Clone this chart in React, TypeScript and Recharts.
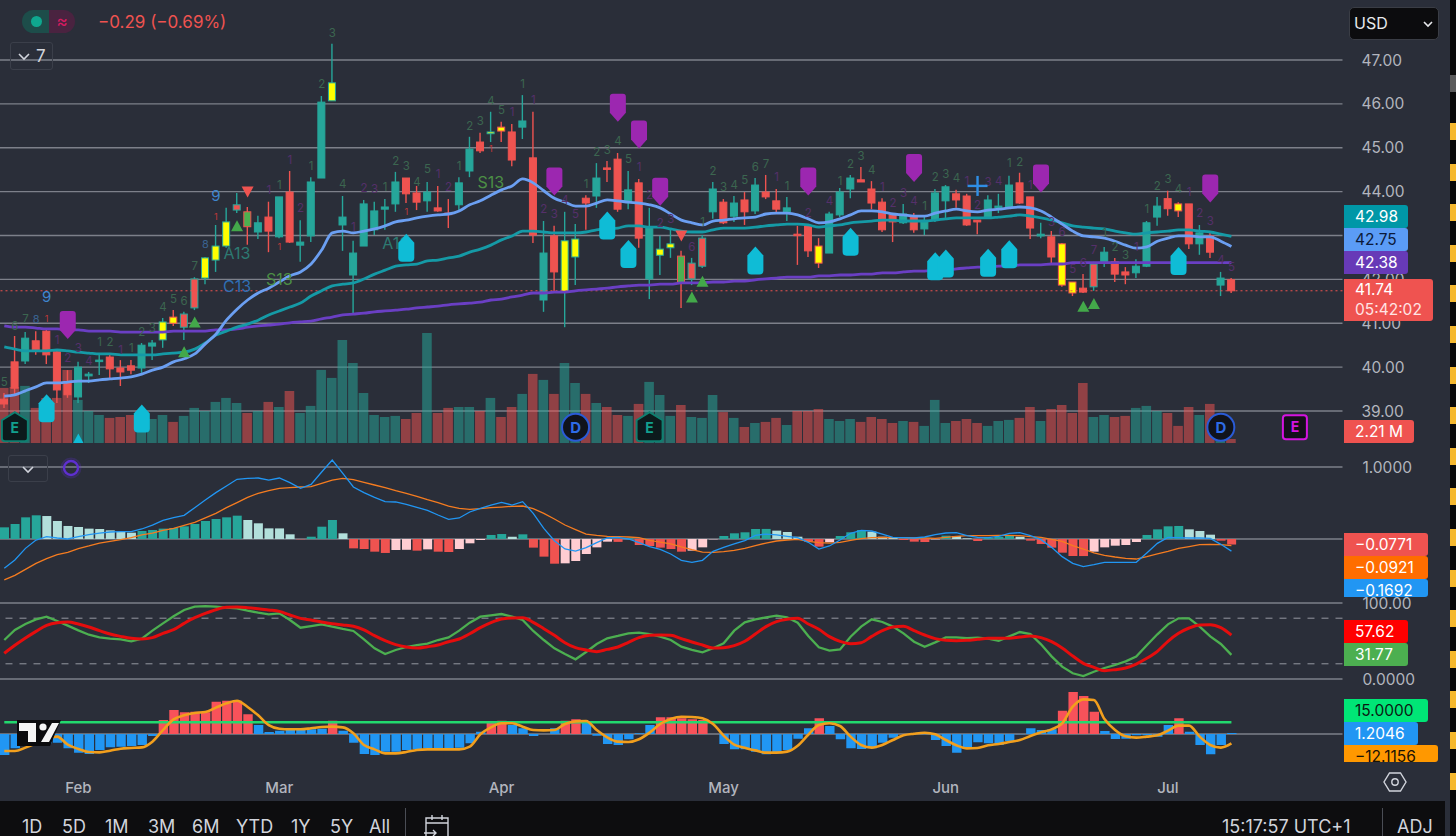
/**
 * StockPanel — dark candlestick chart with volume, MACD, stochastic and a squeeze oscillator.
 */

import {
  Bar,
  CartesianGrid,
  Cell,
  ComposedChart,
  Line,
  ReferenceDot,
  ReferenceLine,
  XAxis,
  YAxis,
} from 'recharts';

const FONT = 'Inter, "Noto Sans", sans-serif';
const BG = '#2a2e39';
const GRID = '#7d808a';
const UP = '#26a69a';
const DOWN = '#ef5350';

// daily candles
const opens = [
  39.27, 40.12, 40.14, 40.6, 40.82, 40.35, 39.64, 39.32, 39.8, 40.14,
  40.23, 39.98, 40.03, 39.98, 40.48, 40.62, 41.14, 41.21, 42.01, 42.03,
  42.44, 42.76, 43.7, 43.2, 43.08, 43.42, 42.97, 43.99, 42.78, 42.99,
  44.31, 46.07, 43.24, 42.1, 42.76, 43.13, 43.6, 43.72, 44.31, 43.97,
  43.79, 43.63, 43.51, 43.7, 44.47, 45.13, 45.32, 45.47, 45.36, 45.47,
  44.77, 41.53, 42.99, 41.71, 42.51, 43.85, 43.9, 44.54, 44.74, 43.76,
  44.2, 42.01, 42.55, 42.72, 41.92, 42.37, 42.94, 43.54, 43.76, 43.44,
  43.81, 43.56, 43.99, 43.79, 43.54, 43.03, 43.22, 42.76, 42.6, 43.47,
  44.06, 44.27, 44.06, 43.76, 43.47, 43.29, 43.44, 43.15, 43.35, 43.79,
  43.95, 43.9, 43.35, 43.42, 43.63, 43.65, 44.2, 43.88, 42.99, 42.97,
  42.81, 41.94, 41.8, 42.35, 42.37, 42.4, 42.17, 42.15, 42.3, 43.42,
  43.84, 43.72, 43.72, 42.81, 42.99, 41.87, 41.99,
];
const closes = [
  39.16, 39.52, 40.66, 40.39, 40.28, 39.48, 39.37, 40.0, 39.84, 40.16,
  39.96, 39.89, 39.93, 40.5, 40.55, 41.03, 41.0, 40.91, 41.35, 42.49,
  42.76, 43.31, 43.58, 43.54, 43.29, 43.1, 43.88, 42.85, 42.85, 44.22,
  46.04, 46.48, 43.42, 42.6, 43.72, 43.56, 43.65, 44.22, 43.95, 43.76,
  43.99, 43.56, 43.49, 44.2, 44.97, 44.93, 45.36, 45.38, 44.72, 45.61,
  43.01, 42.6, 42.17, 42.88, 42.92, 43.74, 44.31, 44.52, 43.6, 44.04,
  42.94, 43.19, 42.69, 42.81, 42.53, 42.01, 42.3, 44.06, 43.29, 43.74,
  43.54, 44.15, 43.88, 43.6, 43.63, 43.01, 42.65, 42.37, 43.49, 43.99,
  44.31, 44.22, 43.74, 43.13, 43.31, 43.49, 43.13, 43.31, 43.97, 44.11,
  43.81, 43.24, 43.31, 43.81, 43.67, 44.15, 43.74, 43.17, 43.03, 42.51,
  41.87, 41.69, 41.71, 41.83, 42.62, 42.12, 42.1, 42.3, 43.29, 43.67,
  43.61, 43.56, 42.81, 43.06, 42.62, 42.03, 41.74,
];
const highs = [
  39.41, 40.71, 40.8, 40.82, 40.89, 40.39, 39.93, 40.12, 39.89, 40.32,
  40.3, 40.16, 40.16, 40.55, 40.62, 41.12, 41.3, 41.26, 42.05, 42.51,
  43.24, 43.63, 43.97, 43.65, 43.45, 43.77, 43.88, 44.47, 43.35, 44.33,
  46.18, 47.37, 43.9, 42.88, 43.81, 43.77, 43.83, 44.45, 44.31, 44.13,
  44.22, 44.13, 43.83, 44.33, 45.25, 45.34, 45.82, 45.59, 45.54, 46.2,
  45.82, 43.33, 43.22, 43.54, 43.26, 43.92, 44.65, 44.7, 44.88, 44.47,
  44.29, 43.63, 42.99, 43.15, 42.65, 42.49, 43.01, 44.22, 43.83, 43.9,
  43.99, 44.31, 44.38, 44.06, 43.88, 43.22, 43.22, 42.94, 43.54, 44.08,
  44.38, 44.56, 44.24, 43.85, 43.47, 43.72, 43.51, 43.42, 44.06, 44.15,
  44.04, 43.95, 43.35, 43.92, 43.95, 44.36, 44.43, 43.88, 43.29, 43.1,
  42.83, 41.94, 42.12, 42.4, 42.74, 42.49, 42.28, 42.46, 43.33, 43.88,
  44.02, 43.76, 43.72, 43.24, 43.06, 42.17, 42.03,
];
const lows = [
  39.07, 39.36, 40.07, 40.28, 40.07, 39.18, 39.3, 39.18, 39.64, 39.82,
  39.71, 39.57, 39.84, 39.87, 40.16, 40.44, 40.94, 40.62, 41.3, 41.89,
  42.17, 42.72, 43.51, 42.79, 42.92, 42.62, 42.94, 42.83, 42.4, 42.85,
  44.31, 46.07, 42.65, 41.23, 42.76, 43.01, 43.13, 43.54, 43.74, 43.58,
  43.54, 43.54, 43.17, 43.58, 44.33, 44.88, 45.13, 45.13, 44.58, 45.2,
  42.83, 41.26, 41.71, 40.91, 41.87, 43.13, 43.63, 44.22, 43.54, 43.6,
  42.72, 41.55, 42.1, 42.49, 41.35, 41.87, 42.26, 43.38, 43.26, 43.31,
  43.24, 43.49, 43.83, 43.51, 43.33, 42.33, 42.51, 42.26, 42.6, 43.42,
  43.85, 44.22, 43.6, 43.08, 42.85, 43.26, 43.06, 43.01, 43.31, 43.4,
  43.63, 43.22, 43.03, 43.4, 43.51, 43.63, 43.72, 42.92, 42.94, 42.37,
  41.83, 41.62, 41.69, 41.74, 42.28, 41.94, 41.89, 42.03, 42.28, 43.22,
  43.45, 43.42, 42.69, 42.56, 42.49, 41.62, 41.69,
];
// d / u plain, yu / yd yellow body with green or red edge, gr green body red edge, rt red body teal edge
const candleKinds = [
  'd', 'd', 'u', 'd', 'd', 'd', 'd', 'u', 'u', 'u',
  'd', 'd', 'd', 'u', 'u', 'yu', 'yd', 'rt', 'rt', 'yu',
  'yu', 'yu', 'rt', 'gr', 'u', 'd', 'u', 'd', 'u', 'u',
  'u', 'yu', 'u', 'u', 'u', 'u', 'u', 'u', 'd', 'd',
  'u', 'd', 'd', 'u', 'u', 'd', 'yu', 'yd', 'd', 'u',
  'd', 'u', 'd', 'yu', 'yu', 'd', 'u', 'd', 'd', 'u',
  'd', 'u', 'yu', 'yu', 'gr', 'rt', 'rt', 'u', 'd', 'u',
  'd', 'u', 'd', 'd', 'u', 'd', 'd', 'yd', 'u', 'u',
  'u', 'd', 'd', 'd', 'd', 'u', 'd', 'u', 'u', 'u',
  'd', 'd', 'd', 'u', 'u', 'u', 'd', 'd', 'u', 'd',
  'yd', 'yd', 'd', 'rt', 'u', 'd', 'd', 'u', 'u', 'u',
  'd', 'yd', 'd', 'u', 'd', 'u', 'd',
];

// volume in millions
const volumes = [
  30.3, 30.8, 31.4, 19.3, 24.8, 24.8, 40.2, 23.7, 17.6, 15.4,
  13.8, 14.3, 15.4, 14.3, 13.2, 15.4, 11.6, 14.9, 19.3, 17.6,
  22.6, 24.8, 22, 16.5, 17.6, 22.6, 19.8, 28.6, 16.5, 20.4,
  40.2, 35.8, 56.7, 44, 27.5, 15.4, 14.3, 14.9, 13.2, 16.5,
  60.5, 16.5, 19.3, 19.8, 19.8, 17.6, 24.8, 14.3, 19.8, 27,
  38, 34.7, 27, 44, 33, 27, 22, 19.8, 15.4, 14.9,
  21.5, 33.6, 26.4, 14.9, 20.9, 14.3, 13.8, 26.4, 17, 13.8,
  8.8, 11, 11.6, 13.8, 9.9, 17.6, 17.6, 18.7, 13.2, 12.1,
  13.2, 11.6, 14.3, 13.2, 11, 12.1, 11.6, 9.4, 23.7, 11,
  12.1, 13.2, 11, 9.4, 12.1, 12.7, 13.8, 19.8, 12.1, 18.7,
  20.9, 16.5, 33, 14.3, 15.4, 14.3, 14.9, 19.3, 20.4, 17.6,
  16.5, 9.4, 19.8, 15.4, 21.5, 9.9, 2.21,
];
const volumeDirs = [
  'd', 'd', 'u', 'd', 'd', 'd', 'd', 'u', 'u', 'u',
  'd', 'd', 'd', 'u', 'u', 'u', 'd', 'u', 'u', 'u',
  'u', 'u', 'u', 'd', 'u', 'd', 'u', 'd', 'u', 'u',
  'u', 'u', 'u', 'u', 'u', 'u', 'u', 'u', 'd', 'd',
  'u', 'd', 'd', 'u', 'u', 'd', 'u', 'd', 'd', 'u',
  'd', 'u', 'd', 'u', 'u', 'd', 'u', 'd', 'd', 'u',
  'd', 'u', 'u', 'u', 'd', 'u', 'u', 'u', 'd', 'u',
  'd', 'u', 'd', 'd', 'u', 'd', 'd', 'd', 'u', 'u',
  'u', 'd', 'd', 'd', 'd', 'u', 'd', 'u', 'u', 'u',
  'd', 'd', 'd', 'u', 'u', 'u', 'd', 'd', 'u', 'd',
  'd', 'd', 'd', 'u', 'u', 'd', 'd', 'u', 'u', 'u',
  'd', 'd', 'd', 'u', 'd', 'u', 'd',
];

const maBlue = [
  39.34, 39.37, 39.46, 39.55, 39.64, 39.64, 39.66, 39.68, 39.68, 39.71,
  39.73, 39.75, 39.78, 39.84, 39.93, 40.0, 40.12, 40.19, 40.3, 40.53,
  40.75, 41.07, 41.32, 41.53, 41.69, 41.8, 41.94, 42.08, 42.17, 42.35,
  42.67, 43.06, 43.1, 43.06, 43.1, 43.15, 43.22, 43.31, 43.35, 43.4,
  43.44, 43.47, 43.49, 43.56, 43.7, 43.79, 43.92, 44.04, 44.13, 44.29,
  44.2, 44.02, 43.85, 43.76, 43.67, 43.67, 43.74, 43.81, 43.79, 43.76,
  43.74, 43.7, 43.63, 43.49, 43.35, 43.29, 43.24, 43.33, 43.35, 43.38,
  43.4, 43.42, 43.49, 43.51, 43.51, 43.47, 43.38, 43.29, 43.31, 43.38,
  43.47, 43.56, 43.56, 43.54, 43.49, 43.47, 43.44, 43.44, 43.51, 43.56,
  43.6, 43.56, 43.54, 43.58, 43.6, 43.63, 43.65, 43.63, 43.56, 43.42,
  43.26, 43.1, 42.99, 42.97, 42.94, 42.87, 42.78, 42.71, 42.74, 42.87,
  42.94, 42.99, 42.99, 42.97, 42.97, 42.87, 42.75,
];
const maTeal = [
  40.46, 40.41, 40.37, 40.37, 40.37, 40.39, 40.37, 40.34, 40.32, 40.3,
  40.3, 40.28, 40.28, 40.28, 40.28, 40.3, 40.32, 40.34, 40.41, 40.55,
  40.73, 40.82, 40.91, 40.98, 41.07, 41.19, 41.28, 41.37, 41.46, 41.62,
  41.74, 41.85, 41.89, 41.92, 42.01, 42.12, 42.21, 42.3, 42.33, 42.35,
  42.42, 42.44, 42.49, 42.53, 42.62, 42.69, 42.78, 42.9, 42.99, 43.1,
  43.1, 43.08, 43.06, 43.06, 43.06, 43.08, 43.13, 43.15, 43.17, 43.22,
  43.22, 43.19, 43.19, 43.15, 43.1, 43.08, 43.08, 43.13, 43.17, 43.17,
  43.17, 43.19, 43.22, 43.24, 43.26, 43.26, 43.24, 43.19, 43.22, 43.24,
  43.29, 43.31, 43.33, 43.35, 43.35, 43.33, 43.33, 43.33, 43.35, 43.38,
  43.4, 43.4, 43.4, 43.4, 43.42, 43.44, 43.47, 43.44, 43.4, 43.35,
  43.29, 43.22, 43.19, 43.17, 43.15, 43.1, 43.06, 43.03, 43.06, 43.08,
  43.1, 43.13, 43.13, 43.1, 43.08, 43.03, 42.98,
];
const maPurple = [
  40.94, 40.91, 40.91, 40.89, 40.87, 40.87, 40.85, 40.85, 40.82, 40.82,
  40.82, 40.8, 40.8, 40.8, 40.8, 40.8, 40.82, 40.82, 40.82, 40.82,
  40.85, 40.85, 40.87, 40.91, 40.94, 40.96, 40.98, 41.01, 41.03, 41.05,
  41.1, 41.14, 41.19, 41.21, 41.23, 41.26, 41.28, 41.3, 41.32, 41.35,
  41.37, 41.39, 41.42, 41.44, 41.46, 41.48, 41.53, 41.55, 41.6, 41.64,
  41.69, 41.69, 41.71, 41.71, 41.74, 41.76, 41.78, 41.8, 41.83, 41.85,
  41.87, 41.87, 41.89, 41.89, 41.92, 41.92, 41.92, 41.94, 41.94, 41.96,
  41.96, 41.99, 42.01, 42.03, 42.05, 42.05, 42.05, 42.08, 42.08, 42.1,
  42.1, 42.12, 42.12, 42.15, 42.15, 42.17, 42.19, 42.19, 42.21, 42.21,
  42.24, 42.26, 42.28, 42.28, 42.3, 42.3, 42.33, 42.33, 42.33, 42.35,
  42.35, 42.38, 42.38, 42.38, 42.38, 42.38, 42.38, 42.38, 42.38, 42.38,
  42.38, 42.38, 42.38, 42.38, 42.38, 42.38, 42.38,
];

const macdLine = [
  -0.407, -0.292, -0.13, -0.014, 0.032, 0.014, 0, 0.032, 0.06, 0.083,
  0.097, 0.102, 0.102, 0.139, 0.194, 0.259, 0.296, 0.329, 0.435, 0.542,
  0.644, 0.736, 0.829, 0.843, 0.847, 0.819, 0.847, 0.782, 0.704, 0.759,
  0.931, 1.097, 0.912, 0.722, 0.644, 0.579, 0.519, 0.514, 0.481, 0.44,
  0.398, 0.333, 0.273, 0.292, 0.375, 0.426, 0.472, 0.509, 0.472, 0.519,
  0.356, 0.148, -0.023, -0.139, -0.167, -0.12, -0.051, 0.014, 0.023, 0,
  -0.051, -0.106, -0.144, -0.208, -0.296, -0.324, -0.296, -0.171, -0.116, -0.069,
  -0.023, 0.051, 0.069, 0.056, 0.037, 0.019, -0.046, -0.139, -0.097, -0.014,
  0.079, 0.12, 0.111, 0.069, 0.023, 0.019, 0.014, 0.028, 0.06, 0.083,
  0.088, 0.046, 0.023, 0.019, 0.037, 0.079, 0.088, 0.046, -0.009, -0.116,
  -0.245, -0.338, -0.384, -0.356, -0.324, -0.324, -0.324, -0.324, -0.194, -0.06,
  0.023, 0.019, 0.014, 0.014, 0.009, -0.074, -0.169,
];
const macdSignal = [
  -0.569, -0.505, -0.421, -0.338, -0.273, -0.218, -0.185, -0.134, -0.097, -0.056,
  -0.032, -0.009, 0.019, 0.056, 0.083, 0.12, 0.148, 0.19, 0.231, 0.292,
  0.356, 0.435, 0.505, 0.579, 0.634, 0.671, 0.704, 0.713, 0.722, 0.727,
  0.773, 0.819, 0.843, 0.824, 0.787, 0.75, 0.713, 0.671, 0.634, 0.593,
  0.546, 0.505, 0.458, 0.426, 0.412, 0.421, 0.435, 0.444, 0.454, 0.458,
  0.421, 0.356, 0.278, 0.194, 0.13, 0.069, 0.051, 0.037, 0.032, 0.028,
  0.019, -0.019, -0.042, -0.069, -0.111, -0.148, -0.181, -0.185, -0.176, -0.157,
  -0.13, -0.093, -0.056, -0.028, -0.014, -0.005, -0.032, -0.051, -0.056, -0.046,
  -0.019, 0.005, 0.019, 0.023, 0.019, 0.019, 0.014, 0.014, 0.009, 0.023,
  0.037, 0.046, 0.046, 0.046, 0.051, 0.051, 0.046, 0.032, 0.023, -0.005,
  -0.032, -0.093, -0.139, -0.194, -0.227, -0.25, -0.269, -0.278, -0.245, -0.208,
  -0.171, -0.13, -0.106, -0.079, -0.074, -0.079, -0.0921,
];
const macdHist = [
  0.162, 0.208, 0.301, 0.329, 0.319, 0.25, 0.181, 0.167, 0.144, 0.139,
  0.12, 0.102, 0.088, 0.111, 0.125, 0.144, 0.153, 0.176, 0.208, 0.25,
  0.278, 0.301, 0.324, 0.264, 0.218, 0.148, 0.147, 0.065, -0.005, 0.032,
  0.171, 0.264, 0.079, -0.13, -0.139, -0.176, -0.194, -0.153, -0.15, -0.162,
  -0.144, -0.176, -0.181, -0.139, -0.06, -0.014, 0.056, 0.069, 0.032, 0.065,
  -0.12, -0.245, -0.343, -0.338, -0.306, -0.208, -0.116, -0.037, -0.04, 0.01,
  -0.083, -0.097, -0.12, -0.139, -0.176, -0.162, -0.116, -0.005, 0.042, 0.079,
  0.093, 0.139, 0.14, 0.116, 0.097, 0.032, -0.037, -0.106, -0.046, 0.042,
  0.093, 0.125, 0.102, 0.032, 0.019, -0.014, -0.037, -0.042, -0.005, 0.046,
  0.042, 0.009, -0.028, 0.014, 0.032, 0.042, 0.032, -0.023, -0.069, -0.12,
  -0.19, -0.236, -0.237, -0.176, -0.116, -0.093, -0.083, -0.042, 0.056, 0.134,
  0.176, 0.181, 0.134, 0.111, 0.06, -0.023, -0.0771,
];

const stochK = [
  51.3, 64.5, 72.4, 78.5, 82, 76.3, 70.2, 64, 58.3, 54.8,
  53.1, 52.2, 49.6, 53.1, 63.6, 73.2, 82.5, 90.8, 95.2, 96,
  95.2, 93.9, 93, 89.9, 87.3, 85.1, 86.4, 77.6, 67.5, 69.7,
  71.9, 68.9, 65.8, 63.2, 52.2, 40.4, 32.9, 38.2, 42.1, 44.7,
  46.5, 51.3, 54.8, 63.6, 74.1, 82, 83.8, 85.5, 82, 77.6,
  63.2, 51.3, 40.4, 32.9, 25.9, 35.5, 46.1, 53.5, 56.6, 60.1,
  61, 59.2, 55.7, 51.3, 42.5, 38.2, 35.1, 40.4, 46.9, 63.6,
  74.6, 78.5, 81.1, 83.3, 81.1, 74.1, 56.6, 41.7, 37.3, 39,
  55.7, 68.9, 78.5, 75, 68.9, 60.1, 49.1, 42.5, 48.2, 54.8,
  54.8, 53.9, 54.4, 53.1, 50.4, 56.1, 61.8, 59.2, 45.6, 29.8,
  16.2, 7.5, 3.9, 9.6, 14.5, 18.4, 23.2, 29.4, 44.3, 58.8,
  71.9, 79.8, 79.8, 68.9, 56.1, 46.1, 31.77,
];
const stochD = [
  33.8, 44.3, 53.9, 62.7, 70.6, 74.1, 75, 72.4, 68.4, 63.6,
  59.2, 56.1, 53.5, 52.6, 54.4, 60.1, 64.9, 73.2, 80.7, 86.4,
  91.2, 94.3, 94.7, 93.9, 92.5, 90.8, 89, 84.2, 79.8, 77.6,
  75, 72.8, 71.1, 69.3, 64.5, 57, 50.4, 45.2, 42.1, 40.8,
  42.5, 44.7, 49.1, 52.6, 59.6, 67.5, 74.1, 78.9, 80.3, 80.7,
  74.6, 66.2, 57.5, 47.8, 41.2, 38.2, 36, 39, 42.1, 48.2,
  54.4, 57.5, 57.9, 57.5, 53.1, 48.7, 44.7, 40.8, 41.2, 43.9,
  49.6, 59.2, 68.9, 75.4, 78.5, 79.8, 72.4, 65.4, 55.7, 49.6,
  46.5, 47.8, 56.1, 63.6, 68.4, 69.3, 63.6, 57.9, 53.1, 50.9,
  50.4, 50.9, 52.2, 53.5, 53.5, 53.5, 55.3, 56.6, 54.4, 49.1,
  40.8, 30.3, 20.6, 15.4, 11, 12.3, 14.5, 19.7, 27.2, 36.4,
  49.6, 60.1, 67.1, 71.1, 71.5, 67.5, 57.62,
];

const squeezeHist = [
  -26.9, -18.4, -14.1, -12, -12, -11.1, -18.4, -24, -25.6, -20.5,
  -17.1, -16.2, -15.4, -14.1, -2.6, 17.9, 30.8, 27.8, 28.6, 27.8,
  41.5, 42.7, 42.7, 25.2, 11.5, 2.6, 4.3, 7.3, 6, 6,
  6.8, 17.1, 4.3, -11.1, -25.6, -26.9, -22.6, -22.6, -20.5, -19.7,
  -18.4, -18.4, -18.4, -17.5, -12, 3, 15.5, 17.1, 11.5, 7.3,
  -2.6, 0, 7.3, 17.1, 18.8, 14.8, -2.1, -12.8, -14.1, -6.8,
  0.9, 11.5, 21.4, 21.4, 20.1, 18.8, 17.9, 0, -12.8, -19.7,
  -19.7, -22.6, -26, -23.5, -20.5, -6, 7.3, 20.1, 10.3, -6.8,
  -18.4, -19.2, -18.4, -11.1, -4.7, 0, 0, -0.4, -7.7, -15.4,
  -23.9, -18.4, -10.7, -12, -14.1, -9, -0.4, 7.3, 5.1, 6,
  29.9, 53.8, 48.7, 28.6, 3.8, -6.4, -6, -1.7, -1.7, -3.4,
  11.5, 20.1, 3, -14.1, -26, -14.1, 1.2046,
];
const squeezeLine = [
  -21.8, -21.8, -17.5, -12, -5.6, -3.4, -13.7, -19.2, -23.1, -23.5,
  -21.4, -18.8, -17.9, -17.1, -9.8, 5.1, 18.8, 24, 27, 28.2,
  33.8, 39.3, 42.7, 34.6, 23.9, 11.5, 6.8, 6, 6, 7.3,
  9, 9.4, 8.5, 0.9, -14.1, -19.7, -24.8, -24.8, -23.1, -20.5,
  -19.7, -19.7, -19.7, -19.7, -16.2, -0.4, 8.5, 13.7, 13.7, 9.4,
  5.1, 4.7, 5.1, 12.8, 16.2, 16.7, 5.1, -4.3, -9.8, -10.3,
  -6.8, 1.7, 12.8, 19.2, 22.2, 21.8, 20.1, 12.8, -2.1, -13.7,
  -17.5, -21, -23.9, -23.9, -22.6, -15, -0.9, 11.5, 13.7, 10.3,
  -3.4, -14.1, -17.5, -14.1, -7.7, -1.7, 0.4, 1.7, -0.4, -7.7,
  -14.5, -18.4, -17.9, -14.5, -12.8, -10.3, -7.7, -2.6, 2.1, 6,
  13.7, 35, 44.4, 43.6, 19.2, 5.1, -3, -4.7, -3.4, -1.7,
  4.3, 10.7, 10.7, -3.4, -14.1, -17.5, -12.1156,
];
const SQUEEZE_LEVEL = 15;

const priceTicks = [39, 40, 41, 42, 43, 44, 45, 46, 47];
const monthTicks = [7, 26, 47, 68, 89, 110];
const monthNames = ['Feb', 'Mar', 'Apr', 'May', 'Jun', 'Jul'];
const rangeButtons: [string, number][] = [
  ['1D', 22], ['5D', 62], ['1M', 105], ['3M', 148], ['6M', 192],
  ['YTD', 236], ['1Y', 291], ['5Y', 330], ['All', 369],
];

// [bar, price] of the chart's signal markers
const shieldMarks = [[6, 40.96], [52, 44.23], [58, 45.91], [60, 45.3], [62, 44.0], [76, 44.23], [86, 44.54], [98, 44.3], [114, 44.07]];
const houseMarks = [[4, 39.06], [13, 38.83], [38, 42.72], [57, 43.23], [59, 42.58], [71, 42.43], [80, 42.86], [88, 42.3], [89, 42.36], [93, 42.38], [95, 42.57], [111, 42.42]];
const greenTriangles = [[17, 40.35], [18, 41.03], [22, 43.22], [65, 41.6], [66, 41.96], [102, 41.39], [103, 41.45]];
const redTriangles = [[23, 43.99], [64, 42.99]];
const cyanTriangles = [[7, 38.36]];

// [bar, price, text] of the small count labels
const countsUp: [number, number, string][] = [
  [0, 39.66, '5'], [1, 40.94, '6'], [2, 41.1, '7'], [9, 40.57, '1'], [10, 40.57, '2'], [12, 40.43, '1'],
  [13, 40.8, '2'], [14, 40.89, '3'], [15, 41.37, '4'], [16, 41.55, '5'], [17, 41.51, '6'], [18, 42.3, '7'],
  [26, 44.15, '1'], [29, 44.58, '1'], [30, 46.45, '2'], [31, 47.62, '3'], [32, 44.17, '4'], [36, 44.11, '1'],
  [37, 44.7, '2'], [38, 44.58, '3'], [39, 44.22, '4'], [40, 44.52, '5'], [43, 44.58, '1'], [44, 45.5, '2'],
  [45, 45.61, '3'], [46, 46.07, '4'], [47, 45.86, '5'], [49, 46.45, '1'], [55, 44.17, '1'], [56, 44.9, '2'],
  [57, 44.95, '3'], [58, 45.15, '4'], [59, 44.74, '5'], [66, 43.31, '1'], [67, 44.47, '2'], [68, 44.11, '3'],
  [69, 44.15, '4'], [70, 44.27, '5'], [71, 44.56, '6'], [72, 44.63, '7'], [74, 44.13, '1'], [79, 44.24, '1'],
  [80, 44.63, '2'], [81, 44.81, '3'], [82, 44.49, '4'], [87, 43.67, '1'], [88, 44.33, '2'], [89, 44.4, '3'],
  [90, 44.31, '4'], [95, 44.65, '1'], [96, 44.67, '2'], [104, 43.06, '1'], [105, 42.74, '2'], [106, 42.56, '3'],
  [108, 43.6, '1'], [109, 44.13, '2'], [110, 44.29, '3'], [111, 44.06, '4'],
];
const countsDown: [number, number, string][] = [
  [5, 40.62, '1'], [6, 40.21, '2'], [7, 40.43, '3'], [8, 40.14, '4'], [11, 40.39, '1'], [25, 44.04, '1'],
  [27, 44.72, '1'], [28, 43.63, '2'], [33, 43.19, '1'], [34, 44.08, '2'], [35, 44.06, '3'], [41, 44.4, '1'],
  [42, 44.11, '2'], [48, 45.82, '1'], [50, 46.09, '1'], [51, 43.6, '2'], [52, 43.49, '3'], [53, 43.81, '4'],
  [54, 43.49, '5'], [60, 44.56, '1'], [61, 43.92, '2'], [62, 43.29, '2'], [63, 43.38, '3'], [65, 42.74, '6'],
  [73, 44.33, '1'], [76, 43.51, '2'], [78, 43.79, '4'], [83, 44.11, '1'], [84, 43.74, '2'], [85, 43.97, '3'],
  [86, 43.79, '4'], [91, 44.24, '1'], [92, 43.7, '2'], [93, 44.22, '3'], [94, 44.24, '4'], [97, 44.15, '1'],
  [99, 43.31, '3'], [100, 43.08, '6'], [101, 42.24, '5'], [102, 42.37, '6'], [103, 42.67, '7'], [107, 42.74, '1'],
  [112, 43.99, '1'], [113, 43.51, '2'], [114, 43.33, '3'], [115, 42.44, '4'], [116, 42.28, '5'],
];
const countsRed: [number, number, string][] = [[4, 41.1, '1'], [20, 43.42, '1'], [26, 42.74, '1'], [38, 43.54, '1'], [46, 44.97, '1']];
// [bar, price, text, colour, size]
const bigLabels: [number, number, string, string, number][] = [
  [4, 41.6, '9', '#3f86cf', 15], [3, 41.1, '8', '#3a6390', 11], [19, 42.8, '8', '#3a6390', 11],
  [20, 43.92, '9', '#3f86cf', 15], [22, 42.6, 'A13', '#2d7a72', 16], [22, 41.85, 'C13', '#2f6fb4', 16],
  [26, 42.0, 'S13', '#4c8f45', 16], [37, 42.83, 'A13', '#2d7a72', 16], [46, 44.22, 'S13', '#4c8f45', 16],
];
// [bar, price, letter, kind] of the earnings and dividend badges
const eventBadges: [number, number, string, string][] = [
  [1, 38.63, 'E', 'earn'], [54, 38.63, 'D', 'div'], [61, 38.63, 'E', 'earn'], [115, 38.63, 'D', 'div'], [122, 38.63, 'E', 'next'],
];
const crossMark: [number, number] = [92, 44.13];

// 117 trading days and 10 empty slots to the right of the last one
const rows = Array.from({ length: 127 }, (_, i) =>
  i < opens.length
    ? {
        i,
        open: opens[i],
        close: closes[i],
        high: highs[i],
        low: lows[i],
        kind: candleKinds[i],
        range: [lows[i], highs[i]],
        volume: volumes[i],
        blue: maBlue[i],
        teal: maTeal[i],
        purple: maPurple[i],
        macd: macdLine[i],
        signal: macdSignal[i],
        hist: macdHist[i],
        k: stochK[i],
        d: stochD[i],
        sqz: squeezeHist[i],
        sqzLine: squeezeLine[i],
        level: SQUEEZE_LEVEL,
      }
    : { i },
);

function candleColors(kind: string) {
  switch (kind) {
    case 'u': return { fill: UP, edge: UP };
    case 'd': return { fill: DOWN, edge: DOWN };
    case 'yu': return { fill: '#ffff00', edge: UP };
    case 'yd': return { fill: '#ffff00', edge: DOWN };
    case 'gr': return { fill: '#4caf50', edge: DOWN };
    default: return { fill: DOWN, edge: UP };
  }
}

function Candle(props: any) {
  const { x, y, width, height, payload } = props;
  if (!payload || payload.high === undefined || !Number.isFinite(y)) return <g />;
  const { open, close, high, low, kind } = payload;
  const pxPerUnit = height / (high - low);
  const top = y + (high - Math.max(open, close)) * pxPerUnit;
  const bodyH = Math.max(Math.abs(open - close) * pxPerUnit, 1.5);
  const cx = x + width / 2;
  const { fill, edge } = candleColors(kind);
  return (
    <g>
      <line x1={cx} x2={cx} y1={y} y2={y + height} stroke={edge} strokeWidth={1.4} />
      <rect x={x + 0.5} y={top} width={width - 1} height={bodyH} fill={fill} stroke={edge} strokeWidth={1} />
    </g>
  );
}

const shieldShape = (p: any) => (
  <path
    d={`M${p.cx - 8} ${p.cy - 11} q0 -3 3 -3 h10 q3 0 3 3 v16 l-8 9 l-8 -9 Z`}
    fill="#9c27b0"
  />
);
const houseShape = (p: any) => (
  <path
    d={`M${p.cx} ${p.cy - 14} l8 9 v15 q0 4 -4 4 h-8 q-4 0 -4 -4 v-15 Z`}
    fill="#0fbcd6"
  />
);
const triangleUp = (color: string) => (p: any) => (
  <path d={`M${p.cx} ${p.cy - 5.5} l6 11 h-12 Z`} fill={color} />
);
const triangleDown = (color: string) => (p: any) => (
  <path d={`M${p.cx} ${p.cy + 5.5} l6 -11 h-12 Z`} fill={color} />
);
const labelShape = (text: string, color: string, size: number) => (p: any) => (
  <text x={p.cx} y={p.cy} dy="0.36em" textAnchor="middle" fill={color} fontSize={size} fontFamily={FONT}>
    {text}
  </text>
);
const crossShape = (p: any) => (
  <g stroke="#2f8fe6" strokeWidth={2.4}>
    <line x1={p.cx - 10} x2={p.cx + 10} y1={p.cy} y2={p.cy} />
    <line x1={p.cx} x2={p.cx} y1={p.cy - 10} y2={p.cy + 10} />
  </g>
);
const badgeShape = (letter: string, kind: string) => (p: any) => {
  if (kind === 'div') {
    return (
      <g>
        <circle cx={p.cx} cy={p.cy} r={13.5} fill="#10131c" stroke="#2a5bd7" strokeWidth={2} />
        <text x={p.cx} y={p.cy} dy="0.36em" textAnchor="middle" fill="#2e6be6" fontSize={15} fontWeight={700} fontFamily={FONT}>{letter}</text>
      </g>
    );
  }
  if (kind === 'next') {
    return (
      <g>
        <rect x={p.cx - 12} y={p.cy - 12} width={24} height={24} rx={3} fill="#14101a" stroke="#d514e0" strokeWidth={2} />
        <text x={p.cx} y={p.cy} dy="0.36em" textAnchor="middle" fill="#d514e0" fontSize={14} fontWeight={700} fontFamily={FONT}>{letter}</text>
      </g>
    );
  }
  return (
    <g>
      <path
        d={`M${p.cx} ${p.cy - 15} l13 8 v18 q0 3 -3 3 h-20 q-3 0 -3 -3 v-18 Z`}
        fill="#0c1a1c"
        stroke="#0f7f70"
        strokeWidth={2}
      />
      <text x={p.cx} y={p.cy + 1} dy="0.36em" textAnchor="middle" fill="#12a08e" fontSize={14} fontWeight={700} fontFamily={FONT}>{letter}</text>
    </g>
  );
};

function histColor(i: number) {
  const v = macdHist[i];
  const prev = i > 0 ? macdHist[i - 1] : v - 1;
  if (v >= 0) return v >= prev ? UP : '#b2dfdb';
  return v <= prev ? DOWN : '#ffcdd2';
}

const tickStyle = { fill: '#b2b5be', fontSize: 15.5, fontFamily: FONT };
const CHART_W = 1456.8;
const AXIS_W = 113.3;
const margin = { top: 0, right: 0, bottom: 0, left: 0 };

function Badge({ top, width, height = 23, bg, color = '#fff', size = 15.5, children }: any) {
  return (
    <div
      style={{
        position: 'absolute',
        left: 1344,
        top,
        width,
        height,
        background: bg,
        color,
        fontSize: size,
        lineHeight: '23px',
        paddingLeft: 11,
        boxSizing: 'border-box',
        borderRadius: '0 3px 3px 0',
        overflow: 'hidden',
        whiteSpace: 'nowrap',
      }}
    >
      {children}
    </div>
  );
}

function Pane({ top, height, children }: any) {
  return (
    <div style={{ position: 'absolute', left: -0.8, top, width: CHART_W, height }}>
      <ComposedChart width={CHART_W} height={height} data={rows} margin={margin}>
        {children}
      </ComposedChart>
    </div>
  );
}

const stripeStarts = Array.from({ length: 17 }, (_, k) => 123 + k * 40.6);

export default function App() {
  return (
    <div
      style={{
        position: 'fixed',
        left: 0,
        top: 0,
        width: 1456,
        height: 836,
        overflow: 'hidden',
        background: BG,
        fontFamily: FONT,
      }}
    >
      {/* price pane with volume underneath */}
      <Pane top={0} height={443}>
        <CartesianGrid vertical={false} stroke={GRID} strokeWidth={1.4} syncWithTicks />
        <XAxis dataKey="i" type="category" scale="band" hide />
        <XAxis dataKey="i" type="category" scale="band" hide xAxisId="v" />
        <YAxis
          orientation="right"
          width={AXIS_W}
          domain={[38.2707, 48.3675]}
          ticks={priceTicks}
          interval={0}
          allowDataOverflow
          axisLine={false}
          tickLine={false}
          tickMargin={13}
          tick={tickStyle}
          tickFormatter={(v: number) => v.toFixed(2)}
        />
        <YAxis yAxisId="v" hide domain={[0, 243.65]} allowDataOverflow />
        <Bar dataKey="volume" xAxisId="v" yAxisId="v" barSize={9.6} isAnimationActive={false}>
          {rows.map((_, i) => (
            <Cell key={i} fill={volumeDirs[i] === 'u' ? 'rgba(38,166,154,0.52)' : 'rgba(239,83,80,0.52)'} />
          ))}
        </Bar>
        <ReferenceLine y={41.74} stroke="#ef5350" strokeDasharray="2 3" strokeWidth={1} />
        <Line dataKey="purple" stroke="#6a3fc4" strokeWidth={2.8} dot={false} activeDot={false} type="monotone" isAnimationActive={false} />
        <Line dataKey="teal" stroke="#159aa6" strokeWidth={2.8} dot={false} activeDot={false} type="monotone" isAnimationActive={false} />
        <Line dataKey="blue" stroke="#6b9ff2" strokeWidth={2.8} dot={false} activeDot={false} type="monotone" isAnimationActive={false} />
        <Bar dataKey="range" barSize={8} shape={<Candle />} isAnimationActive={false} />
        {countsUp.map(([i, p, t], n) => (
          <ReferenceDot key={`u${n}`} x={i} y={p} ifOverflow="visible" shape={labelShape(t, '#3c6650', 11.5)} />
        ))}
        {countsDown.map(([i, p, t], n) => (
          <ReferenceDot key={`p${n}`} x={i} y={p} ifOverflow="visible" shape={labelShape(t, '#55306a', 11.5)} />
        ))}
        {countsRed.map(([i, p, t], n) => (
          <ReferenceDot key={`r${n}`} x={i} y={p} ifOverflow="visible" shape={labelShape(t, '#c0393a', 9)} />
        ))}
        {bigLabels.map(([i, p, t, c, s], n) => (
          <ReferenceDot key={`b${n}`} x={i} y={p} ifOverflow="visible" shape={labelShape(t, c, s)} />
        ))}
        {shieldMarks.map(([i, p]) => (
          <ReferenceDot key={`s${i}`} x={i} y={p} ifOverflow="visible" shape={shieldShape} />
        ))}
        {houseMarks.map(([i, p]) => (
          <ReferenceDot key={`h${i}`} x={i} y={p} ifOverflow="visible" shape={houseShape} />
        ))}
        {greenTriangles.map(([i, p]) => (
          <ReferenceDot key={`g${i}`} x={i} y={p} ifOverflow="visible" shape={triangleUp('#43a84a')} />
        ))}
        {redTriangles.map(([i, p]) => (
          <ReferenceDot key={`t${i}`} x={i} y={p} ifOverflow="visible" shape={triangleDown('#ef5350')} />
        ))}
        {cyanTriangles.map(([i, p]) => (
          <ReferenceDot key={`c${i}`} x={i} y={p} ifOverflow="visible" shape={triangleUp('#0fbcd6')} />
        ))}
        <ReferenceDot x={crossMark[0]} y={crossMark[1]} ifOverflow="visible" shape={crossShape} />
        {eventBadges.map(([i, p, l, kind]) => (
          <ReferenceDot key={`e${i}`} x={i} y={p} ifOverflow="visible" shape={badgeShape(l, kind)} />
        ))}
      </Pane>

      {/* MACD */}
      <Pane top={443} height={160}>
        <CartesianGrid vertical={false} stroke={GRID} strokeWidth={1.4} syncWithTicks />
        <XAxis dataKey="i" type="category" scale="band" hide />
        <YAxis
          orientation="right"
          width={AXIS_W}
          domain={[-0.8889, 1.3333]}
          ticks={[0, 1]}
          interval={0}
          allowDataOverflow
          axisLine={false}
          tickLine={false}
          tickMargin={14}
          tick={tickStyle}
          tickFormatter={(v: number) => v.toFixed(4)}
        />
        <Bar dataKey="hist" barSize={9} isAnimationActive={false}>
          {rows.map((_, i) => (
            <Cell key={i} fill={i < macdHist.length ? histColor(i) : 'none'} />
          ))}
        </Bar>
        <Line dataKey="signal" stroke="#f57c20" strokeWidth={1.3} dot={false} activeDot={false} isAnimationActive={false} />
        <Line dataKey="macd" stroke="#2196f3" strokeWidth={1.3} dot={false} activeDot={false} isAnimationActive={false} />
      </Pane>

      {/* Stochastic */}
      <Pane top={590} height={100}>
        <CartesianGrid vertical={false} stroke={GRID} strokeWidth={1.4} syncWithTicks />
        <XAxis dataKey="i" type="category" scale="band" hide />
        <YAxis
          orientation="right"
          width={AXIS_W}
          domain={[-14.47, 117.105]}
          ticks={[0, 100]}
          interval={0}
          allowDataOverflow
          axisLine={false}
          tickLine={false}
          tickMargin={14}
          tick={tickStyle}
          tickFormatter={(v: number) => (v === 100 ? '100.00' : '0.0000')}
        />
        <ReferenceLine y={80} stroke="#9598a1" strokeDasharray="7 7" strokeWidth={1} />
        <ReferenceLine y={20} stroke="#9598a1" strokeDasharray="7 7" strokeWidth={1} />
        <Line dataKey="k" stroke="#4caf50" strokeWidth={2.3} dot={false} activeDot={false} isAnimationActive={false} />
        <Line dataKey="d" stroke="#e50d0d" strokeWidth={3} dot={false} activeDot={false} type="monotone" isAnimationActive={false} />
      </Pane>

      {/* Squeeze oscillator and the time axis */}
      <Pane top={680} height={120}>
        <CartesianGrid vertical={false} stroke={GRID} strokeWidth={1.4} syncWithTicks />
        <XAxis
          dataKey="i"
          type="category"
          scale="band"
          height={30}
          ticks={monthTicks}
          interval={0}
          axisLine={false}
          tickLine={false}
          tickMargin={6}
          tick={{ fill: '#b2b5be', fontSize: 15, fontWeight: 500, fontFamily: FONT }}
          tickFormatter={(v: number) => monthNames[monthTicks.indexOf(v)]}
        />
        <YAxis
          orientation="right"
          width={AXIS_W}
          domain={[-46.15, 69.23]}
          ticks={[0]}
          interval={0}
          allowDataOverflow
          axisLine={false}
          tickLine={false}
          tickFormatter={() => ''}
        />
        <Bar dataKey="sqz" barSize={9.4} isAnimationActive={false}>
          {rows.map((_, i) => (
            <Cell key={i} fill={squeezeHist[i] > SQUEEZE_LEVEL ? '#f8525a' : '#2196f3'} />
          ))}
        </Bar>
        <Line dataKey="level" stroke="#22d96e" strokeWidth={2.6} dot={false} activeDot={false} isAnimationActive={false} />
        <Line dataKey="sqzLine" stroke="#f29f1d" strokeWidth={2.6} dot={false} activeDot={false} type="monotone" isAnimationActive={false} />
      </Pane>

      {/* price badges */}
      <Badge top={205} width={64} bg="#0097a7">42.98</Badge>
      <Badge top={228} width={64} bg="#5b9cf6" color="#0b1a3a">42.75</Badge>
      <Badge top={251} width={64} bg="#673ab7">42.38</Badge>
      <Badge top={279} width={89} height={42} bg="#ef5350">
        <div style={{ lineHeight: '20px', paddingTop: 1 }}>41.74</div>
        <div style={{ lineHeight: '20px', color: '#ffe4e4' }}>05:42:02</div>
      </Badge>
      <Badge top={420} width={70} bg="#ef5350">2.21 M</Badge>
      <Badge top={533} width={84} bg="#ef5350">−0.0771</Badge>
      <Badge top={555.5} width={84} bg="#ff6d00">−0.0921</Badge>
      <Badge top={578.5} width={84} height={18.5} bg="#2196f3">−0.1692</Badge>
      <Badge top={620} width={64} bg="#ff0000">57.62</Badge>
      <Badge top={643} width={64} bg="#4caf50">31.77</Badge>
      <Badge top={699} width={84} bg="#00e676" color="#0b1a12">15.0000</Badge>
      <Badge top={722} width={74} bg="#2196f3">1.2046</Badge>
      <Badge top={745} width={94} height={17} bg="#ff9800" color="#1a1205">−12.1156</Badge>

      {/* top left legend */}
      <div style={{ position: 'absolute', left: 22, top: 10, width: 53, height: 23, borderRadius: 12, overflow: 'hidden', display: 'flex' }}>
        <div style={{ width: 27, background: '#1d4d4a', position: 'relative' }}>
          <div style={{ position: 'absolute', left: 9, top: 6, width: 11, height: 11, borderRadius: 6, background: '#0fa88f' }} />
        </div>
        <div style={{ width: 26, background: '#4a2340', color: '#d81b60', fontSize: 17, lineHeight: '22px', textAlign: 'center' }}>≈</div>
      </div>
      <div style={{ position: 'absolute', left: 98, top: 11, color: '#ef5350', fontSize: 17, lineHeight: '22px' }}>−0.29 (−0.69%)</div>
      <div style={{ position: 'absolute', left: 10, top: 42, width: 43, height: 28, border: '1px solid #3b3f4a', borderRadius: 3, boxSizing: 'border-box', color: '#d1d4dc', fontSize: 17, lineHeight: '26px', paddingLeft: 25 }}>
        7
        <svg width="12" height="8" style={{ position: 'absolute', left: 7, top: 10 }}><path d="M1 1 L6 6 L11 1" fill="none" stroke="#d1d4dc" strokeWidth="1.6" /></svg>
      </div>
      <div style={{ position: 'absolute', left: 8, top: 455, width: 40, height: 27, border: '1px solid #3b3f4a', borderRadius: 3, boxSizing: 'border-box' }}>
        <svg width="12" height="8" style={{ position: 'absolute', left: 13, top: 10 }}><path d="M1 1 L6 6 L11 1" fill="none" stroke="#d1d4dc" strokeWidth="1.6" /></svg>
      </div>
      <svg width="22" height="22" style={{ position: 'absolute', left: 60, top: 457 }}>
        <circle cx="11" cy="11" r="7" fill="none" stroke="#5e2fd0" strokeWidth="2.4" />
        <circle cx="11" cy="11" r="9.5" fill="none" stroke="#5e2fd0" strokeOpacity="0.25" strokeWidth="2" />
      </svg>

      {/* currency selector */}
      <div style={{ position: 'absolute', left: 1349, top: 7, width: 90, height: 33, background: '#0c0c0e', border: '1px solid #3a3d45', borderRadius: 5, boxSizing: 'border-box', color: '#e8e9ec', fontSize: 16, lineHeight: '31px', paddingLeft: 4 }}>
        USD
        <svg width="10" height="7" style={{ position: 'absolute', left: 73, top: 13 }}><path d="M1 1 L5 5 L9 1" fill="none" stroke="#e8e9ec" strokeWidth="1.6" /></svg>
      </div>

      {/* TV logo */}
      <svg width="50" height="30" style={{ position: 'absolute', left: 14, top: 718 }}>
        <path d="M3 2 H47 L36 28 H3 Z" fill="#0b0b0d" />
        <path d="M5 5 H22 V24 H14 V13 H5 Z M38 5 H45 L35 24 H27 Z" fill="#f4f4f4" />
        <circle cx="29" cy="9" r="3.6" fill="#f4f4f4" />
      </svg>

      {/* settings hexagon */}
      <svg width="24" height="24" style={{ position: 'absolute', left: 1383, top: 770 }}>
        <path d="M6.5 3 H17.5 L23 12 L17.5 21 H6.5 L1 12 Z" fill="none" stroke="#d1d4dc" strokeWidth="1.4" />
        <circle cx="12" cy="12" r="3.2" fill="none" stroke="#d1d4dc" strokeWidth="1.4" />
      </svg>

      {/* bottom toolbar */}
      <div style={{ position: 'absolute', left: 0, top: 801, width: 1445, height: 35, background: '#0d0d0f' }} />
      {rangeButtons.map(([label, x]) => (
        <div key={label} style={{ position: 'absolute', left: x, top: 815, color: '#d1d4dc', fontSize: 18, lineHeight: '24px' }}>{label}</div>
      ))}
      <div style={{ position: 'absolute', left: 405, top: 808, width: 1, height: 28, background: '#4a4d55' }} />
      <svg width="28" height="24" style={{ position: 'absolute', left: 423, top: 813 }}>
        <path d="M3 23 V5 H25 V23 M3 10 H25 M9 2 V7 M19 2 V7 M1 20 H13 M10 17 L13 20 L10 23" fill="none" stroke="#d1d4dc" strokeWidth="1.4" />
      </svg>
      <div style={{ position: 'absolute', left: 1222, top: 815, color: '#d1d4dc', fontSize: 18, lineHeight: '24px' }}>15:17:57 UTC+1</div>
      <div style={{ position: 'absolute', left: 1382, top: 808, width: 1, height: 28, background: '#4a4d55' }} />
      <div style={{ position: 'absolute', left: 1397, top: 815, color: '#d1d4dc', fontSize: 18, lineHeight: '24px' }}>ADJ</div>

      {/* right edge strip */}
      <div style={{ position: 'absolute', left: 1450, top: 0, width: 6, height: 836, background: '#0a0a0a' }} />
      <div style={{ position: 'absolute', left: 1450, top: 75, width: 6, height: 17, background: '#5a5a5a' }} />
      {stripeStarts.map((y) => (
        <div key={y} style={{ position: 'absolute', left: 1450, top: y, width: 6, height: 17, background: '#f5b82e' }} />
      ))}
    </div>
  );
}
